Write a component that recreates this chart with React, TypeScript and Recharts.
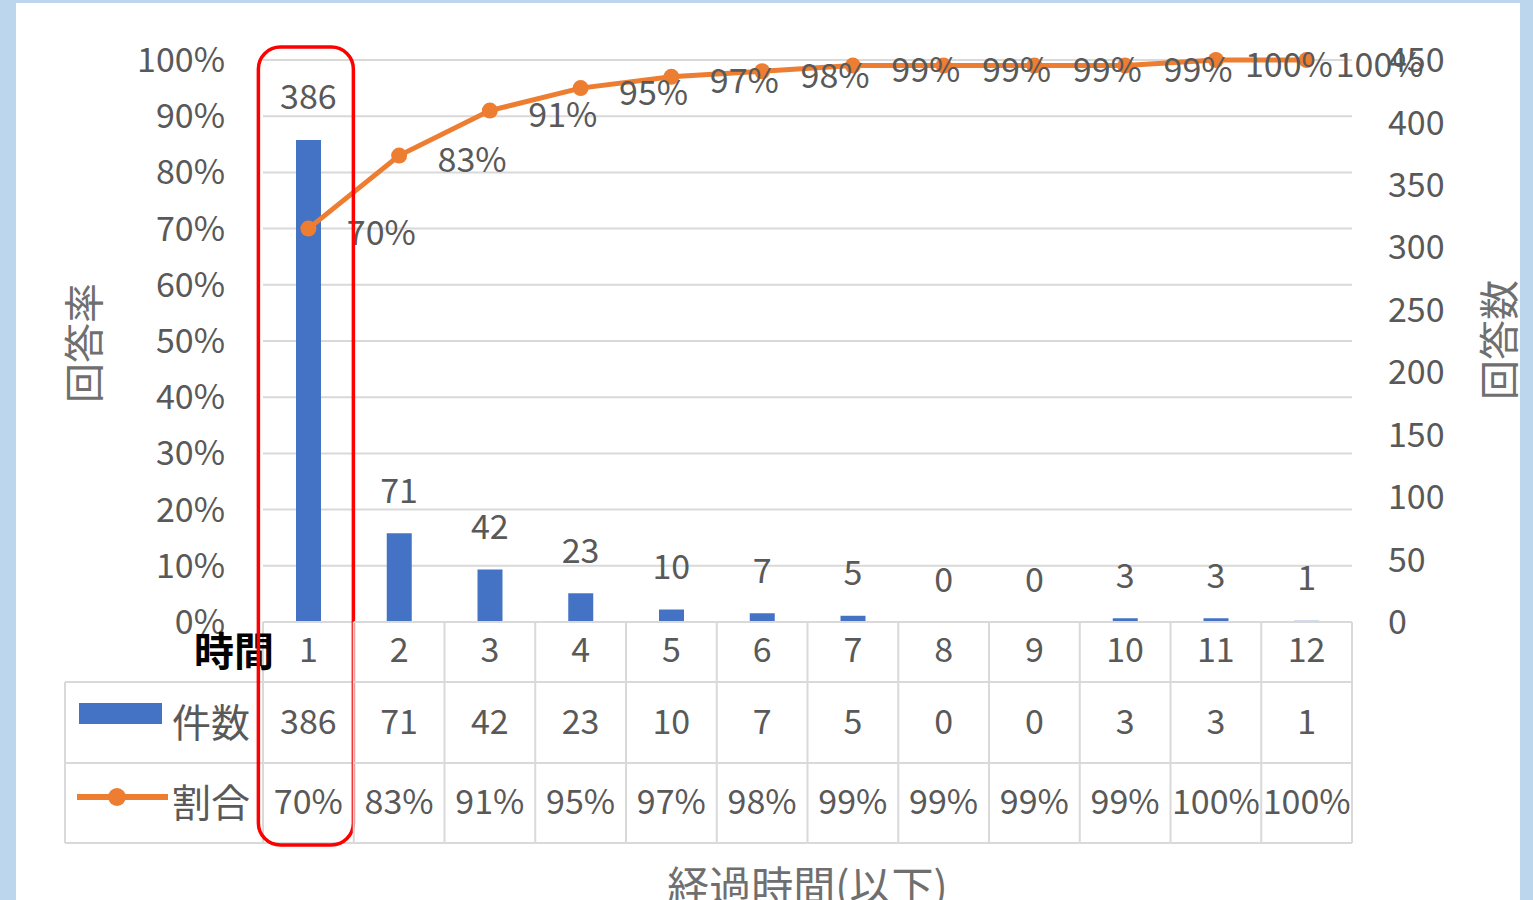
import React from 'react';
import { ComposedChart, Bar, Line, XAxis, YAxis, CartesianGrid, LabelList } from 'recharts';

// elapsed hours, response counts and cumulative share
const hours = ['1', '2', '3', '4', '5', '6', '7', '8', '9', '10', '11', '12'];
const counts = [386, 71, 42, 23, 10, 7, 5, 0, 0, 3, 3, 1];
const ratios = [0.7, 0.83, 0.91, 0.95, 0.97, 0.98, 0.99, 0.99, 0.99, 0.99, 1.0, 1.0];
const pctTicks = [0, 0.1, 0.2, 0.3, 0.4, 0.5, 0.6, 0.7, 0.8, 0.9, 1.0];
const countTicks = [0, 50, 100, 150, 200, 250, 300, 350, 400, 450];

const data = hours.map((h, i) => ({ hour: h, count: counts[i], ratio: ratios[i] }));

const W = 1533;
const H = 900;
const PLOT_LEFT = 263;
const PLOT_RIGHT = 1352;
const PLOT_TOP = 60;
const PLOT_BOTTOM = 622;
const BAND = (PLOT_RIGHT - PLOT_LEFT) / hours.length;
const ROW1 = 60;
const ROW2 = 141;
const ROW3 = 221;
const LEGEND_LEFT = 65;

const BLUE = '#4472C4';
const ORANGE = '#ED7D31';
const GRID = '#d9d9d9';
const TEXT = '#595959';
const FONT = '"Noto Sans CJK JP", "Noto Sans", sans-serif';

const pct = (v: number) => `${Math.round(v * 100)}%`;

const cellText = { fill: TEXT, fontSize: 34, fontFamily: FONT, textAnchor: 'middle' as const, dominantBaseline: 'central' as const };

// data table under the plot: one column per category, legend column on the first one
const TableTick = (props: any) => {
  const { x, y, payload } = props;
  const i = props.index ?? payload.index;
  const left = x - BAND / 2;
  const right = x + BAND / 2;
  const b1 = y + ROW1;
  const b2 = y + ROW2;
  const b3 = y + ROW3;
  return (
    <g>
      {[y, b1, b2, b3].map((yy, k) => (
        <line key={k} x1={left} x2={right} y1={yy} y2={yy} stroke={GRID} strokeWidth={2} />
      ))}
      <line x1={left} x2={left} y1={y} y2={b3} stroke={GRID} strokeWidth={2} />
      {i === hours.length - 1 && <line x1={right} x2={right} y1={y} y2={b3} stroke={GRID} strokeWidth={2} />}
      <text x={x} y={y + 25} {...cellText}>{payload.value}</text>
      <text x={x} y={y + 97} {...cellText}>{counts[i]}</text>
      <text x={x} y={y + 177} {...cellText}>{pct(ratios[i])}</text>
      {i === 0 && (
        <g>
          {[b1, b2, b3].map((yy, k) => (
            <line key={k} x1={LEGEND_LEFT} x2={left} y1={yy} y2={yy} stroke={GRID} strokeWidth={2} />
          ))}
          <line x1={LEGEND_LEFT} x2={LEGEND_LEFT} y1={b1} y2={b3} stroke={GRID} strokeWidth={2} />
          <rect x={79} y={b1 + 21} width={83} height={21} fill={BLUE} />
          <text x={211} y={y + 98} {...cellText} fontSize={39}>件数</text>
          <line x1={77} x2={168} y1={b2 + 34} y2={b2 + 34} stroke={ORANGE} strokeWidth={6} />
          <circle cx={117} cy={b2 + 34} r={9} fill={ORANGE} />
          <text x={211} y={y + 178} {...cellText} fontSize={39}>割合</text>
          <text x={234} y={y + 27} {...cellText} fill="#000" fontSize={40} fontWeight="bold">時間</text>
          <rect
            x={x - 50}
            y={y - (PLOT_BOTTOM - 47)}
            width={95}
            height={845 - 47}
            rx={22}
            fill="none"
            stroke="#ff0000"
            strokeWidth={3.5}
          />
        </g>
      )}
    </g>
  );
};

// count label above each bar, zero counts included
const CountLabel = (props: any) => {
  const { x, y, value } = props;
  return (
    <text x={x} y={y - 45} {...cellText}>
      {value}
    </text>
  );
};

const RatioLabel = (props: any) => {
  const { x, y, value } = props;
  return (
    <text x={x + 73} y={y + 2} {...cellText}>
      {pct(value)}
    </text>
  );
};

const titleStyle = { fill: '#6f6f6f', fontSize: 40, fontFamily: FONT, textAnchor: 'middle' as const, dominantBaseline: 'central' as const };

const LeftTitle = () => (
  <text x={82} y={343} transform="rotate(-90, 82, 343)" {...titleStyle}>回答率</text>
);

const RightTitle = () => (
  <text x={1497} y={340} transform="rotate(-90, 1497, 340)" {...titleStyle}>回答数</text>
);

const BottomTitle = () => (
  <text x={(PLOT_LEFT + PLOT_RIGHT) / 2} y={902} fill="#6f6f6f" fontSize={42} fontFamily={FONT} textAnchor="middle">
    経過時間(以下)
  </text>
);

const App: React.FC = () => {
  return (
    <div style={{ position: 'absolute', left: 0, top: 0, width: W, height: H, background: '#bcd6ee', overflow: 'hidden' }}>
      <div style={{ position: 'absolute', left: 16, top: 3, width: 1504, height: H - 3, background: '#ffffff' }} />
      <div style={{ position: 'absolute', left: 0, top: 0 }}>
        <ComposedChart
          width={W}
          height={H}
          data={data}
          margin={{ top: PLOT_TOP, right: 0, bottom: 56, left: 0 }}
        >
          <CartesianGrid yAxisId="pct" vertical={false} stroke={GRID} strokeWidth={2} />
          <YAxis
            yAxisId="pct"
            orientation="left"
            width={PLOT_LEFT}
            domain={[0, 1]}
            ticks={pctTicks}
            tickFormatter={pct}
            axisLine={false}
            tickLine={false}
            tickSize={0}
            tickMargin={38}
            tick={{ fill: TEXT, fontSize: 34, fontFamily: FONT }}
            label={LeftTitle}
          />
          <YAxis
            yAxisId="cnt"
            orientation="right"
            width={W - PLOT_RIGHT}
            domain={[0, 450]}
            ticks={countTicks}
            axisLine={false}
            tickLine={false}
            tickSize={0}
            tickMargin={36}
            tick={{ fill: TEXT, fontSize: 34, fontFamily: FONT }}
            label={RightTitle}
          />
          <Bar yAxisId="cnt" dataKey="count" fill={BLUE} barSize={25} isAnimationActive={false} />
          {/* invisible carrier for the count labels so zero bars get one too */}
          <Line
            yAxisId="cnt"
            dataKey="count"
            stroke="none"
            dot={false}
            activeDot={false}
            legendType="none"
            isAnimationActive={false}
          >
            <LabelList dataKey="count" content={CountLabel} />
          </Line>
          <Line
            yAxisId="pct"
            dataKey="ratio"
            type="linear"
            stroke={ORANGE}
            strokeWidth={5}
            dot={{ r: 8, fill: ORANGE, stroke: ORANGE, strokeWidth: 0 }}
            activeDot={false}
            isAnimationActive={false}
          >
            <LabelList dataKey="ratio" content={RatioLabel} />
          </Line>
          <XAxis
            dataKey="hour"
            height={ROW3 + 1}
            axisLine={false}
            tickLine={false}
            tickSize={0}
            tickMargin={0}
            interval={0}
            tick={TableTick}
            label={BottomTitle}
          />
        </ComposedChart>
      </div>
    </div>
  );
};

export default App;
